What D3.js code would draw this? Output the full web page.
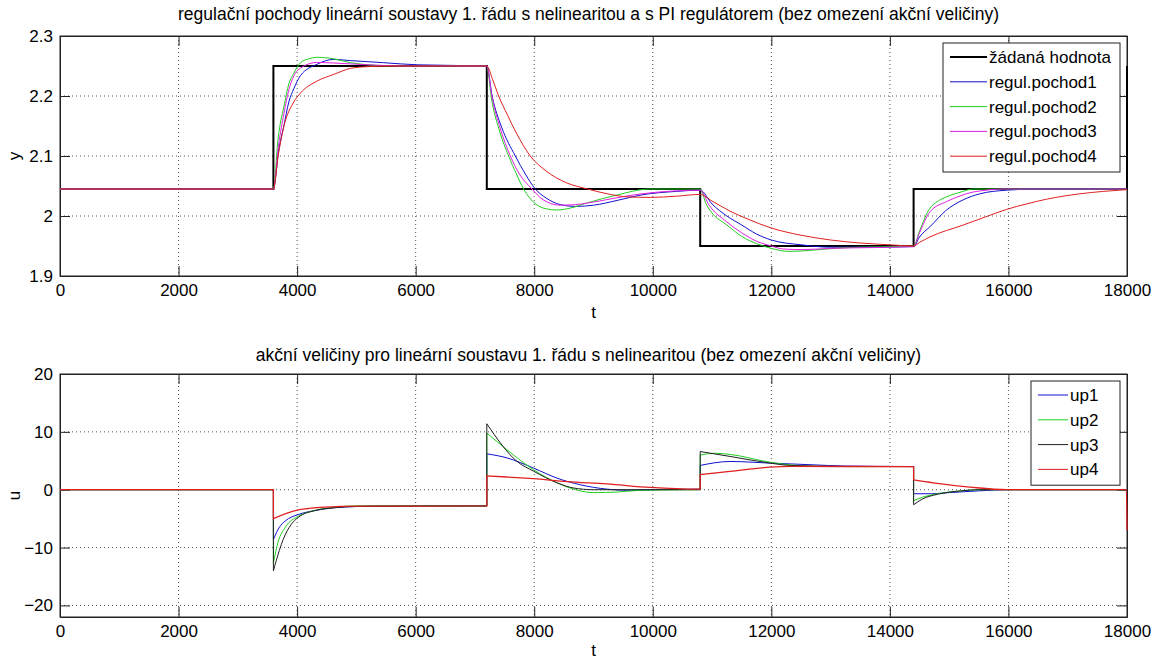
<!DOCTYPE html>
<html>
<head>
<meta charset="utf-8">
<script src="https://cdn.jsdelivr.net/npm/d3@7"></script>
<style>
  body { margin: 0; background: #fff; }
  svg { display: block; font-family: "Liberation Sans", Arial, sans-serif; }
  .tick text { font-size: 17px; fill: #000; }
  .grid line { stroke: #555; stroke-dasharray: 1,3; }
</style>
</head>
<body>
<div id="chart"></div>
<script>
// ---- data ----
var xTicks = [0, 2000, 4000, 6000, 8000, 10000, 12000, 14000, 16000, 18000];
var yTicksTop = [1.9, 2, 2.1, 2.2, 2.3];
var yTicksBottom = [-20, -10, 0, 10, 20];

var titleTop = "regulační pochody lineární soustavy 1. řádu s nelinearitou a s PI regulátorem (bez omezení akční veličiny)";
var titleBottom = "akční veličiny pro lineární soustavu 1. řádu s nelinearitou (bez omezení akční veličiny)";

var topNames = ["žádaná hodnota", "regul.pochod1", "regul.pochod2", "regul.pochod3", "regul.pochod4"];
var bottomNames = ["up1", "up2", "up3", "up4"];

// setpoint
var setpoint = [[0, 2.045], [3600, 2.045], [3600, 2.25], [7200, 2.25], [7200, 2.045], [10800, 2.045],
  [10800, 1.95], [14400, 1.95], [14400, 2.045], [18000, 2.045], [18000, 2.25]];

var pochod1 = [[0, 2.045], [3600, 2.045], [3690, 2.11], [3776, 2.15], [3860, 2.19], [3944, 2.212], [4057, 2.234],
  [4338, 2.253], [4618, 2.261], [4900, 2.259], [5461, 2.2555], [6024, 2.252], [7200, 2.25],
  [7290, 2.2], [7450, 2.148], [7681, 2.1], [7850, 2.07], [8018, 2.045], [8200, 2.03], [8440, 2.019],
  [8700, 2.016], [9000, 2.018], [9400, 2.026], [9800, 2.035], [10400, 2.041], [10800, 2.043],
  [11000, 2.02], [11250, 2.0], [11500, 1.985], [11750, 1.97], [12000, 1.96], [12500, 1.952],
  [13000, 1.948], [13500, 1.948], [14400, 1.949],
  [14500, 1.965], [14675, 1.982], [14956, 2.01], [15237, 2.027], [15518, 2.037], [15968, 2.043],
  [16500, 2.045], [18000, 2.045]];

var pochod2 = [[0, 2.045], [3600, 2.045], [3680, 2.13], [3776, 2.182], [3860, 2.22], [3944, 2.238], [4057, 2.2555],
  [4200, 2.262], [4338, 2.2645], [4618, 2.262], [4900, 2.2555], [5200, 2.252], [5600, 2.25], [7200, 2.25],
  [7280, 2.195], [7420, 2.14], [7568, 2.1], [7700, 2.07], [7821, 2.045], [8000, 2.022], [8200, 2.012],
  [8383, 2.01], [8600, 2.013], [8900, 2.022], [9395, 2.035], [9956, 2.045], [10800, 2.045],
  [10900, 2.02], [11000, 2.005], [11250, 1.985], [11500, 1.966], [11750, 1.954], [12000, 1.946],
  [12300, 1.941], [12700, 1.943], [13200, 1.947], [14400, 1.95],
  [14500, 1.975], [14675, 2.013], [14800, 2.024], [14956, 2.032], [15200, 2.04], [15406, 2.045], [18000, 2.045]];

var pochod3 = [[0, 2.045], [3600, 2.045], [3690, 2.12], [3776, 2.17], [3860, 2.21], [3944, 2.2335], [4057, 2.2465],
  [4338, 2.256], [4618, 2.255], [5200, 2.252], [5800, 2.25], [7200, 2.25],
  [7285, 2.2], [7430, 2.145], [7597, 2.1], [7750, 2.07], [7962, 2.045], [8150, 2.027], [8440, 2.018],
  [8700, 2.019], [9100, 2.025], [9600, 2.034], [10400, 2.042], [10800, 2.043],
  [10950, 2.018], [11250, 1.99], [11500, 1.972], [11750, 1.958], [12000, 1.95], [12200, 1.945],
  [12500, 1.944], [13000, 1.946], [14400, 1.949],
  [14500, 1.972], [14675, 2.007], [14956, 2.024], [15200, 2.034], [15406, 2.04], [15968, 2.045], [18000, 2.045]];

var pochod4 = [[0, 2.045], [3600, 2.045], [3680, 2.1], [3776, 2.149], [3944, 2.19], [4057, 2.205], [4338, 2.225],
  [4618, 2.236], [4900, 2.246], [5200, 2.249], [5600, 2.25], [7200, 2.25],
  [7300, 2.227], [7400, 2.2], [7550, 2.168], [7700, 2.138], [7934, 2.1], [8200, 2.075], [8552, 2.055],
  [8900, 2.045], [9282, 2.036], [9563, 2.032], [9956, 2.031], [10400, 2.033], [10800, 2.036],
  [11000, 2.025], [11304, 2.008], [11600, 1.995], [12000, 1.98], [12500, 1.968], [13000, 1.96],
  [13500, 1.955], [14000, 1.952], [14400, 1.95],
  [14500, 1.956], [14675, 1.965], [15237, 1.985], [15600, 1.998], [15968, 2.011], [16300, 2.02], [16642, 2.028],
  [17204, 2.037], [17600, 2.041], [18000, 2.044]];

var up1 = [[0, 0], [3600, 0], [3600, -8.6], [3700, -6.5], [3800, -5.4], [4017, -4.3], [4300, -3.6], [4644, -3.1],
  [5000, -2.9], [5400, -2.8], [7200, -2.8],
  [7200, 6.2], [7541, 5.5], [7989, 3.74], [8384, 2.0], [8776, 0.86], [9226, 0.1], [9600, -0.1], [10000, 0], [10800, 0.1],
  [10800, 4.2], [11304, 4.88], [11979, 4.6], [12709, 4.3], [13214, 4.1], [14400, 4.0],
  [14400, -0.7], [14700, -0.7], [15000, -0.5], [15500, -0.2], [15968, 0], [18000, 0]];

var up2 = [[0, 0], [3600, 0], [3600, -12.6], [3680, -9], [3800, -6.5], [4017, -4.6], [4300, -3.6], [4644, -3.0],
  [5000, -2.8], [7200, -2.8],
  [7200, 9.8], [7541, 6.9], [7989, 3.45], [8384, 1.2], [8700, 0], [9000, -0.5], [9400, -0.4], [9800, -0.1], [10800, 0],
  [10800, 6.0], [11050, 6.3], [11304, 6.1], [11979, 4.75], [12316, 4.3], [13000, 4.0], [14400, 4.0],
  [14400, -1.9], [14550, -1.3], [14800, -0.7], [15200, -0.2], [15500, 0], [18000, 0]];

var up3 = [[0, 0], [3600, 0], [3600, -14], [3700, -10.5], [3765, -8.6], [3900, -6], [4017, -4.8], [4300, -3.6],
  [4644, -3.1], [5000, -2.9], [7200, -2.8],
  [7200, 11.4], [7709, 4.9], [7989, 3.2], [8384, 1.2], [8663, 0.3], [9000, 0], [10800, 0],
  [10800, 6.6], [11304, 5.75], [11979, 4.6], [12316, 4.2], [13214, 4.02], [14400, 4.0],
  [14400, -2.6], [14550, -1.6], [14800, -0.8], [15200, -0.2], [15500, 0], [18000, 0]];

var up4 = [[0, 0], [3600, 0], [3600, -5], [4017, -3.5], [4500, -3.0], [5000, -2.85], [7200, -2.8],
  [7200, 2.4], [7541, 2.2], [7989, 1.9], [8552, 1.4], [9226, 1.0], [9956, 0.4], [10743, 0.1], [10800, 0.1],
  [10800, 2.6], [11304, 3.16], [11979, 3.9], [12316, 4.02], [14400, 4.0],
  [14400, 1.7], [14731, 1.2], [15350, 0.46], [15968, 0], [17990, 0], [18000, -7]];

// ---- layout ----
var svgWidth = 1167;
var svgHeight = 663;
var left = 60, right = 1127;

var svg = d3.select("#chart").append("svg")
  .attr("width", svgWidth)
  .attr("height", svgHeight);

var x = d3.scaleLinear().domain([0, 18000]).range([left, right]);
var yTop = d3.scaleLinear().domain([1.9, 2.3]).range([276, 36]);
var yBot = d3.scaleLinear().domain([-22, 20]).range([617, 374]);

// builds one path: smooth between jumps, straight vertical at the jumps
function stepSmoothPath(data, y) {
  var line = d3.line().x(d => x(d[0])).y(d => y(d[1])).curve(d3.curveMonotoneX);
  var pieces = [[data[0]]];
  for (var i = 1; i < data.length; i++) {
    if (data[i][0] === data[i - 1][0]) pieces.push([]);
    pieces[pieces.length - 1].push(data[i]);
  }
  return pieces.map(function(p, i) {
    var s = p.length > 1 ? line(p) : "M" + x(p[0][0]) + "," + y(p[0][1]);
    return i === 0 ? s : "L" + s.slice(1);
  }).join("");
}

function drawPanel(y, yTicks, fmt, title, titleY, xlabelY, ylab) {
  var top = y.range()[1], bottom = y.range()[0];
  var g = svg.append("g");

  // grid
  var grid = g.append("g").attr("class", "grid");
  grid.selectAll(".gx").data(xTicks.slice(1, -1)).enter().append("line")
    .attr("x1", d => x(d)).attr("x2", d => x(d))
    .attr("y1", top).attr("y2", bottom);
  grid.selectAll(".gy").data(yTicks.filter(d => y(d) > top + 1 && y(d) < bottom - 1)).enter().append("line")
    .attr("x1", left).attr("x2", right)
    .attr("y1", d => y(d)).attr("y2", d => y(d));

  // axes, ticks inside like matlab
  g.append("g").attr("transform", `translate(0,${bottom})`)
    .call(d3.axisBottom(x).tickValues(xTicks).tickSizeInner(-10).tickSizeOuter(0).tickPadding(8).tickFormat(d3.format("d")));
  g.append("g").attr("transform", `translate(0,${top})`)
    .call(d3.axisTop(x).tickValues(xTicks).tickSizeInner(-10).tickSizeOuter(0).tickFormat(""));
  g.append("g").attr("transform", `translate(${left},0)`)
    .call(d3.axisLeft(y).tickValues(yTicks).tickSizeInner(-10).tickSizeOuter(0).tickPadding(7).tickFormat(fmt));
  g.append("g").attr("transform", `translate(${right},0)`)
    .call(d3.axisRight(y).tickValues(yTicks).tickSizeInner(-10).tickSizeOuter(0).tickFormat(""));
  g.selectAll(".domain, .tick line").attr("stroke", "#222");

  g.append("rect").attr("x", left).attr("y", top).attr("width", right - left).attr("height", bottom - top)
    .attr("fill", "none").attr("stroke", "#222");

  g.append("text").attr("x", (left + right) / 2 - 5).attr("y", titleY)
    .attr("text-anchor", "middle").style("font-size", "17.5px").text(title);
  g.append("text").attr("x", (left + right) / 2).attr("y", xlabelY)
    .attr("text-anchor", "middle").style("font-size", "17px").text("t");
  g.append("text").attr("transform", `translate(20,${(top + bottom) / 2}) rotate(-90)`)
    .attr("text-anchor", "middle").style("font-size", "17px").text(ylab);
  return g;
}

function legend(items, bx, by, bw, rowH, lineLen) {
  var lg = svg.append("g");
  lg.append("rect").attr("x", bx).attr("y", by).attr("width", bw).attr("height", rowH * items.length + 5)
    .attr("fill", "#fff").attr("stroke", "#222");
  items.forEach(function(it, i) {
    var cy = by + 14 + i * rowH;
    lg.append("line").attr("x1", bx + 7).attr("x2", bx + 7 + lineLen).attr("y1", cy).attr("y2", cy)
      .attr("stroke", it.color).attr("stroke-width", it.width);
    lg.append("text").attr("x", bx + 9 + lineLen).attr("y", cy + 6).style("font-size", "17px").text(it.name);
  });
}

// top panel
var fmtTop = d => d3.format("")(+d.toFixed(1));
var pTop = drawPanel(yTop, yTicksTop, fmtTop, titleTop, 20, 318, "y");
var topSeries = [
  { d: pochod1, color: "#1010d0", width: 1 },
  { d: pochod2, color: "#20d020", width: 1 },
  { d: pochod3, color: "#e020e0", width: 1 },
  { d: pochod4, color: "#e02020", width: 1 }
];
pTop.append("path").attr("d", stepSmoothPath(setpoint, yTop)).attr("fill", "none")
  .attr("stroke", "#000").attr("stroke-width", 2);
topSeries.forEach(function(s) {
  pTop.append("path").attr("d", stepSmoothPath(s.d, yTop)).attr("fill", "none")
    .attr("stroke", s.color).attr("stroke-width", s.width);
});
legend([
  { name: topNames[0], color: "#000", width: 2 },
  { name: topNames[1], color: "#1010d0", width: 1 },
  { name: topNames[2], color: "#20d020", width: 1 },
  { name: topNames[3], color: "#e020e0", width: 1 },
  { name: topNames[4], color: "#e02020", width: 1 }
], 943, 43, 177, 24.8, 37);

// bottom panel
var pBot = drawPanel(yBot, yTicksBottom, d3.format("d"), titleBottom, 361, 656, "u");
var botSeries = [
  { d: up1, color: "#1010d0", width: 1 },
  { d: up2, color: "#20d020", width: 1 },
  { d: up3, color: "#202020", width: 1 },
  { d: up4, color: "#e02020", width: 1.3 }
];
botSeries.forEach(function(s) {
  pBot.append("path").attr("d", stepSmoothPath(s.d, yBot)).attr("fill", "none")
    .attr("stroke", s.color).attr("stroke-width", s.width);
});
legend(bottomNames.map((n, i) => ({ name: n, color: botSeries[i].color, width: 1 })), 1031, 381, 89, 24.8, 30);
</script>
</body>
</html>
